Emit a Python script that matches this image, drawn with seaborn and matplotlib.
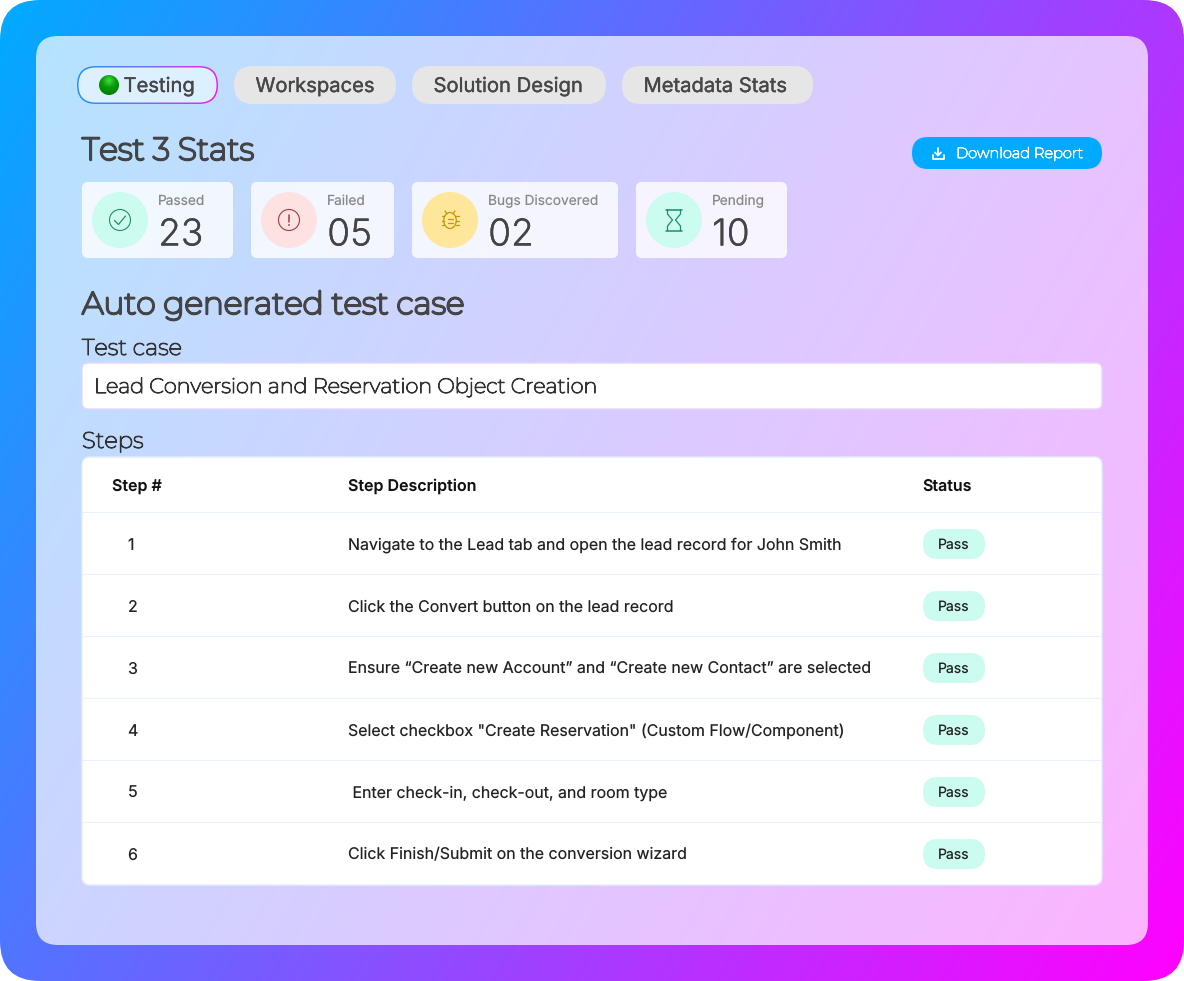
import numpy as np
import pandas as pd
import seaborn as sns
import matplotlib
matplotlib.use("Agg")
import matplotlib.pyplot as plt
import matplotlib.patheffects as pe
from matplotlib.colors import LinearSegmentedColormap
from matplotlib.patches import Circle, Ellipse, FancyBboxPatch

# Contents of the screen
tab_labels = ["Testing", "Workspaces", "Solution Design", "Metadata Stats"]
stat_labels = ["Passed", "Failed", "Bugs Discovered", "Pending"]
stat_values = ["23", "05", "02", "10"]
test_case = "Lead Conversion and Reservation Object Creation"
step_numbers = ["1", "2", "3", "4", "5", "6"]
step_descriptions = [
    "Navigate to the Lead tab and open the lead record for John Smith",
    "Click the Convert button on the lead record",
    "Ensure “Create new Account” and “Create new Contact” are selected",
    'Select checkbox "Create Reservation" (Custom Flow/Component)',
    " Enter check-in, check-out, and room type",
    "Click Finish/Submit on the conversion wizard",
]
step_status = ["Pass", "Pass", "Pass", "Pass", "Pass", "Pass"]

W, H = 1184, 981
BODY = "Inter"
HEAD = ["Montserrat", "Inter"]

sns.set_theme(style="white")
plt.rcParams["font.family"] = ["Inter", "DejaVu Sans"]
plt.rcParams["text.hinting"] = "no_hinting"

fig = plt.figure(figsize=(W / 100, H / 100), dpi=100, facecolor="white")
ax = fig.add_axes([0, 0, 1, 1])

# Background gradient, the heatmap cells are one pixel so data coords = pixels
xx, yy = np.meshgrid(np.arange(W) + 0.5, np.arange(H) + 0.5)
bg = pd.DataFrame(0.68 * xx / W + 0.32 * yy / H)
cmap_bg = LinearSegmentedColormap.from_list("bg", ["#00AAFF", "#FF00FF"])
sns.heatmap(bg, ax=ax, cmap=cmap_bg, vmin=0, vmax=1, cbar=False,
            xticklabels=False, yticklabels=False, rasterized=True)
ax.axis("off")


def rbox(x0, y0, x1, y1, r, fc, ec="none", lw=0, alpha=None, z=2):
    p = FancyBboxPatch((x0 + r, y0 + r), x1 - x0 - 2 * r, y1 - y0 - 2 * r,
                       boxstyle=f"round,pad={r},rounding_size={r}",
                       fc=fc, ec=ec, lw=lw, alpha=alpha, zorder=z)
    ax.add_patch(p)
    return p


def txt(x, y, s, px, color="#444444", weight="normal", ha="left", family=BODY, stroke=0, z=6):
    t = ax.text(x, y, s, fontsize=px * 0.72, color=color, fontweight=weight, ha=ha,
                va="baseline", family=family, zorder=z)
    # the heading font only comes in a thin cut, so thicken it
    if stroke:
        t.set_path_effects([pe.withStroke(linewidth=stroke, foreground=color)])


def line(xs, ys, color, lw=1.0, z=6):
    ax.plot(xs, ys, color=color, lw=lw, zorder=z, solid_capstyle="round",
            solid_joinstyle="round")


# Round the outer frame
outer = FancyBboxPatch((40, 40), W - 80, H - 80, boxstyle="round,pad=40,rounding_size=40",
                       transform=ax.transData, fc="none", ec="none")
ax.add_patch(outer)
ax.collections[0].set_clip_path(outer)

# Panel
rbox(36, 36, 1148, 945, 22, "white", alpha=0.70, z=1)

# Tabs
tab_x = [(77, 218), (234, 396), (412, 606), (622, 813)]
tab_text_x = [123.5, 255.5, 433.5, 643.5]
for i, (label, (x0, x1)) in enumerate(zip(tab_labels, tab_x)):
    if i == 0:
        clip = rbox(x0, 66, x1, 104, 19, "none", z=2)
        grad = np.linspace(0, 1, 200).reshape(1, -1)
        cmap_tab = LinearSegmentedColormap.from_list("tab", ["#1E96FF", "#7C6CF0", "#F020F0"])
        im = ax.imshow(grad, extent=(x0, x1, 104, 66), cmap=cmap_tab, aspect="auto", zorder=2)
        im.set_clip_path(clip)
        rbox(x0 + 1.5, 67.5, x1 - 1.5, 102.5, 17.5, "#DDF0FF", z=3)
    else:
        rbox(x0, 66, x1, 104, 19, "#E6E6E6", z=2)
    txt(tab_text_x[i], 92, label, 20.2, color="#474747", stroke=0.25)

# Green dot of the active tab
u = np.linspace(-1, 1, 60)
gx, gy = np.meshgrid(u, u)
dot = np.hypot(gx, gy + 0.45)
cmap_dot = LinearSegmentedColormap.from_list("dot", ["#40E040", "#0A9A0A", "#008000"])
dot_clip = Circle((109, 85), 10, fc="none", ec="none", zorder=4)
ax.add_patch(dot_clip)
im = ax.imshow(dot, extent=(99, 119, 95, 75), cmap=cmap_dot, vmin=0, vmax=1.4, aspect="auto", zorder=4)
im.set_clip_path(dot_clip)
ax.set_xlim(0, W)
ax.set_ylim(H, 0)

# Headline and download button
txt(82, 160, "Test 3 Stats", 31.6, weight=600, family=HEAD, stroke=1.7)
rbox(912, 137, 1102, 169, 16, "#00AAFF", z=2)
txt(956, 158, "Download Report", 14.7, color="white", weight=500, family=HEAD, stroke=0.6)
line([938, 938], [147.5, 155], "white", 1.3)
line([935, 938, 941], [152.5, 155.5, 152.5], "white", 1.3)
line([932.5, 932.5, 943.5, 943.5], [155, 159, 159, 155], "white", 1.3)

# Stat cards
card_x = [(82, 233), (251, 394), (412, 618), (636, 787)]
circle_x = [120, 289, 450, 674]
circle_col = ["#CCFBEF", "#FEE2E2", "#FEE79B", "#CCFBEF"]
label_x = [158, 327, 488, 712]
for i in range(4):
    rbox(card_x[i][0], 182, card_x[i][1], 258, 6, "white", alpha=0.8, z=2)
    ax.add_patch(Circle((circle_x[i], 220), 28, fc=circle_col[i], ec="none", zorder=3))
    txt(label_x[i], 205, stat_labels[i], 13.7, color="#888888")
    txt(label_x[i] + 0.2, 245.5, stat_values[i], 37, color="#444444", weight=300, stroke=0.2)

# Passed icon
ax.add_patch(Circle((120, 220), 10.5, fc="none", ec="#2E8B57", lw=0.8, zorder=6))
line([114.5, 118.5, 125.5], [220.5, 224.5, 216], "#2E8B57", 0.9)
# Failed icon
ax.add_patch(Circle((289, 220), 10.5, fc="none", ec="#9F3A50", lw=0.8, zorder=6))
line([289, 289], [214.5, 221.5], "#9F3A50", 1.1)
ax.add_patch(Circle((289, 225), 0.9, fc="#9F3A50", ec="none", zorder=6))
# Bug icon
bug = "#C0960C"
ax.add_patch(Ellipse((450, 220.5), 12.5, 16, fc="none", ec=bug, lw=0.9, zorder=6))
line([447.5, 452.5], [219, 219], bug, 0.9)
line([447.5, 452.5], [223, 223], bug, 0.9)
line([445, 447], [211, 214], bug, 0.9)
line([455, 453], [211, 214], bug, 0.9)
for yy_leg in [216, 220.5, 225]:
    line([441.5, 444], [yy_leg, yy_leg], bug, 0.9)
    line([456, 458.5], [yy_leg, yy_leg], bug, 0.9)
# Pending icon
glass = "#1F8A70"
line([666, 682], [209.5, 209.5], glass, 1.1)
line([666, 682], [230.5, 230.5], glass, 1.1)
line([667.5, 667.5, 672.5, 667.5, 667.5], [209.5, 214, 220, 226, 230.5], glass, 0.9)
line([680.5, 680.5, 675.5, 680.5, 680.5], [209.5, 214, 220, 226, 230.5], glass, 0.9)

# Test case
txt(82, 314, "Auto generated test case", 31.3, weight=600, family=HEAD, stroke=1.7)
txt(82, 355, "Test case", 22.7, color="#333333", weight=500, family=HEAD, stroke=0.8)
rbox(82, 363, 1102, 409, 6, "white", ec="#E6D5FA", lw=1, z=2)
txt(94, 393, test_case, 20.8, color="#333333", weight=500, family=HEAD, stroke=0.8)
txt(82, 448, "Steps", 22.7, color="#333333", weight=500, family=HEAD, stroke=0.8)

# Table
rbox(82, 457, 1102, 885, 8, "white", ec="#E3EEFC", lw=1, z=2)
txt(112, 491, "Step #", 16, color="#111111", weight=600)
txt(348, 491, "Step Description", 16, color="#111111", weight=600)
txt(922.5, 491, "Status", 16, color="#111111", weight=600)
for i in range(6):
    yc = 544 + 62 * i
    ax.plot([83, 1101], [yc - 31.5, yc - 31.5], color="#E8F1FC", lw=0.72, zorder=3, snap=False)
    txt(127.5, yc + 5.7, step_numbers[i], 16, color="#222222")
    txt(348, yc + 5.7, step_descriptions[i], 15.95, color="#222222")
    rbox(923, yc - 15, 985, yc + 15, 15, "#CCFBEF", z=3)
    txt(954, yc + 5, step_status[i], 14, color="#222222", ha="center")

ax.set_xlim(0, W)
ax.set_ylim(H, 0)
fig.savefig("out.png", dpi=100)
